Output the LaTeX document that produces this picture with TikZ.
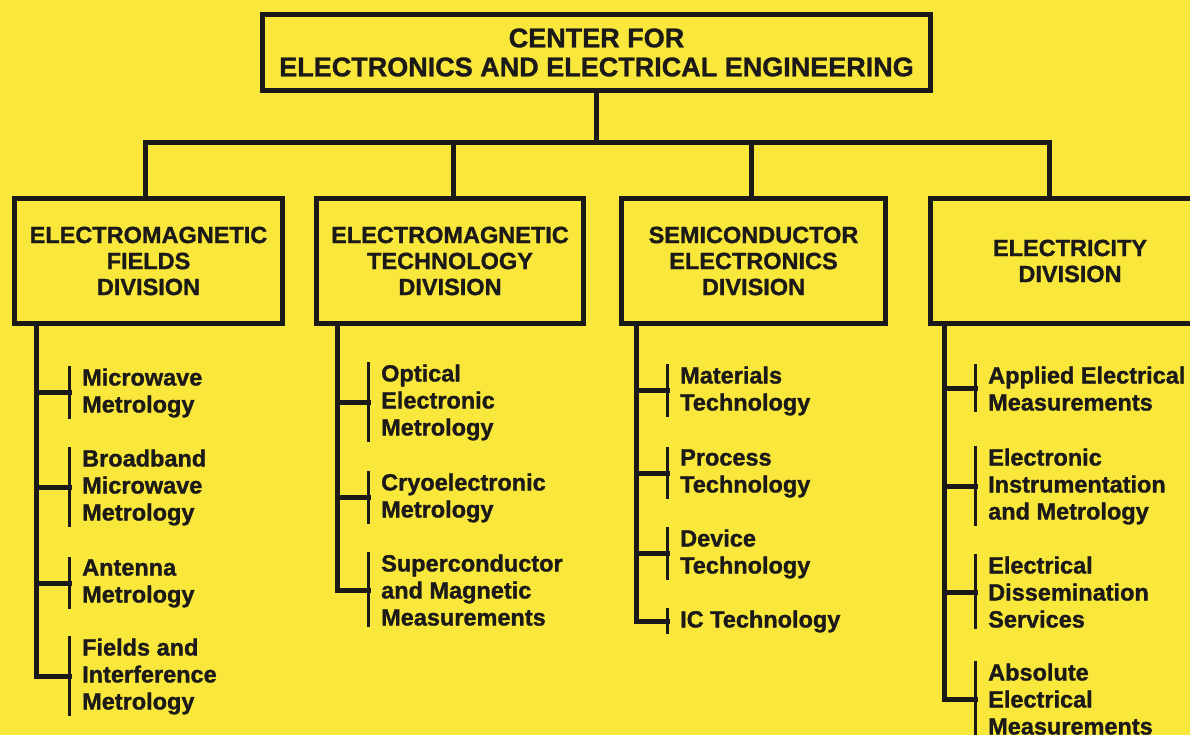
\documentclass[tikz,border=0pt]{standalone}
\usepackage{fontspec}
\setmainfont{Liberation Sans}[BoldFeatures={FakeBold=1.2}]
\definecolor{bgyellow}{RGB}{249,231,60}
\definecolor{ink}{RGB}{28,26,24}
\newcommand\stk[1]{\vtop{\baselineskip=27pt\lineskiplimit=-20pt\halign{##\hfil\cr#1\crcr}}}
\begin{document}
\begin{tikzpicture}[x=1pt,y=-1pt,
  ln/.style={draw=ink,line width=5pt,line join=miter,line cap=rect},
  brk/.style={draw=ink,line width=3pt},
  box/.style={draw=ink,line width=5pt,fill=bgyellow,align=center,inner sep=0pt,
    text=ink,font=\fontsize{23.5pt}{26pt}\selectfont\bfseries},
  topbox/.style={box,font=\fontsize{27pt}{29pt}\selectfont\bfseries},
  item/.style={anchor=base west,inner sep=0pt,text=ink,
    font=\fontsize{23.5pt}{27pt}\selectfont\bfseries}]
\fill[bgyellow] (0,0) rectangle (1190,735);
\useasboundingbox (0,0) rectangle (1190,735);
\clip (0,0) rectangle (1190,735);

% top box
\node[topbox,minimum width=668pt,minimum height=76pt] (top) at (596.5,52.5)
  {CENTER FOR\\ELECTRONICS AND ELECTRICAL ENGINEERING};

% division boxes
\node[box,minimum width=268pt,minimum height=125pt] (b1) at (148.5,261) {ELECTROMAGNETIC\\FIELDS\\DIVISION};
\node[box,minimum width=267pt,minimum height=125pt] (b2) at (450,261) {ELECTROMAGNETIC\\TECHNOLOGY\\DIVISION};
\node[box,minimum width=264pt,minimum height=125pt] (b3) at (753.5,261) {SEMICONDUCTOR\\ELECTRONICS\\DIVISION};
\node[box,minimum width=279pt,minimum height=125pt] (b4) at (1070,261) {ELECTRICITY\\DIVISION};

% bus
\coordinate (bus) at (596.5,143);
\coordinate (d1) at (145,143);
\coordinate (d2) at (453,143);
\coordinate (d3) at (751,143);
\coordinate (d4) at (1049,143);
\draw[ln] (top.south) -- (bus);
\draw[ln] (d1 |- b1.north) -- (d1) -- (d4) -- (d4 |- b4.north);
\draw[ln] (d2) -- (d2 |- b2.north);
\draw[ln] (d3) -- (d3 |- b3.north);

% trunk x positions
\coordinate (t1) at (36,0);
\coordinate (t2) at (337,0);
\coordinate (t3) at (636,0);
\coordinate (t4) at (944,0);

% items, division 1
\node[item] (m1) at (82,385.5) {\stk{Microwave\cr Metrology}};
\node[item] (m2) at (82,466.5) {\stk{Broadband\cr Microwave\cr Metrology}};
\node[item] (m3) at (82,575.5) {\stk{Antenna\cr Metrology}};
\node[item] (m4) at (82,655.5) {\stk{Fields and\cr Interference\cr Metrology}};
% division 2
\node[item] (o1) at (381,381.5) {\stk{Optical\cr Electronic\cr Metrology}};
\node[item] (o2) at (381,490.5) {\stk{Cryoelectronic\cr Metrology}};
\node[item] (o3) at (381,571.5) {\stk{Superconductor\cr and Magnetic\cr Measurements}};
% division 3
\node[item] (s1) at (680,383.5) {\stk{Materials\cr Technology}};
\node[item] (s2) at (680,465.5) {\stk{Process\cr Technology}};
\node[item] (s3) at (680,546.5) {\stk{Device\cr Technology}};
\node[item] (s4) at (680,627.5) {\stk{IC Technology}};
% division 4
\node[item] (e1) at (988,383.5) {\stk{Applied Electrical\cr Measurements}};
\node[item] (e2) at (988,465.5) {\stk{Electronic\cr Instrumentation\cr and Metrology}};
\node[item] (e3) at (988,573.5) {\stk{Electrical\cr Dissemination\cr Services}};
\node[item] (e4) at (988,680.5) {\stk{Absolute\cr Electrical\cr Measurements}};

% brackets
\foreach \n in {m1,m2,m3,m4,o1,o2,o3,s1,s2,s3,s4,e1,e2,e3,e4}{
  \draw[brk] ([xshift=-13pt,yshift=2pt]\n.north west) -- ([xshift=-13pt,yshift=-1pt]\n.south west);
}

% trunks with last branch
\draw[ln] (b1.south -| t1) |- ([xshift=-13pt]m4.west);
\draw[ln] (b2.south -| t2) |- ([xshift=-13pt]o3.west);
\draw[ln] (b3.south -| t3) |- ([xshift=-13pt]s4.west);
\draw[ln] (b4.south -| t4) |- ([xshift=-13pt]e4.west);

% other branches
\foreach \n in {m1,m2,m3}{\draw[ln] (t1 |- \n.west) -- ([xshift=-13pt]\n.west);}
\foreach \n in {o1,o2}{\draw[ln] (t2 |- \n.west) -- ([xshift=-13pt]\n.west);}
\foreach \n in {s1,s2,s3}{\draw[ln] (t3 |- \n.west) -- ([xshift=-13pt]\n.west);}
\foreach \n in {e1,e2,e3}{\draw[ln] (t4 |- \n.west) -- ([xshift=-13pt]\n.west);}
\end{tikzpicture}
\end{document}
